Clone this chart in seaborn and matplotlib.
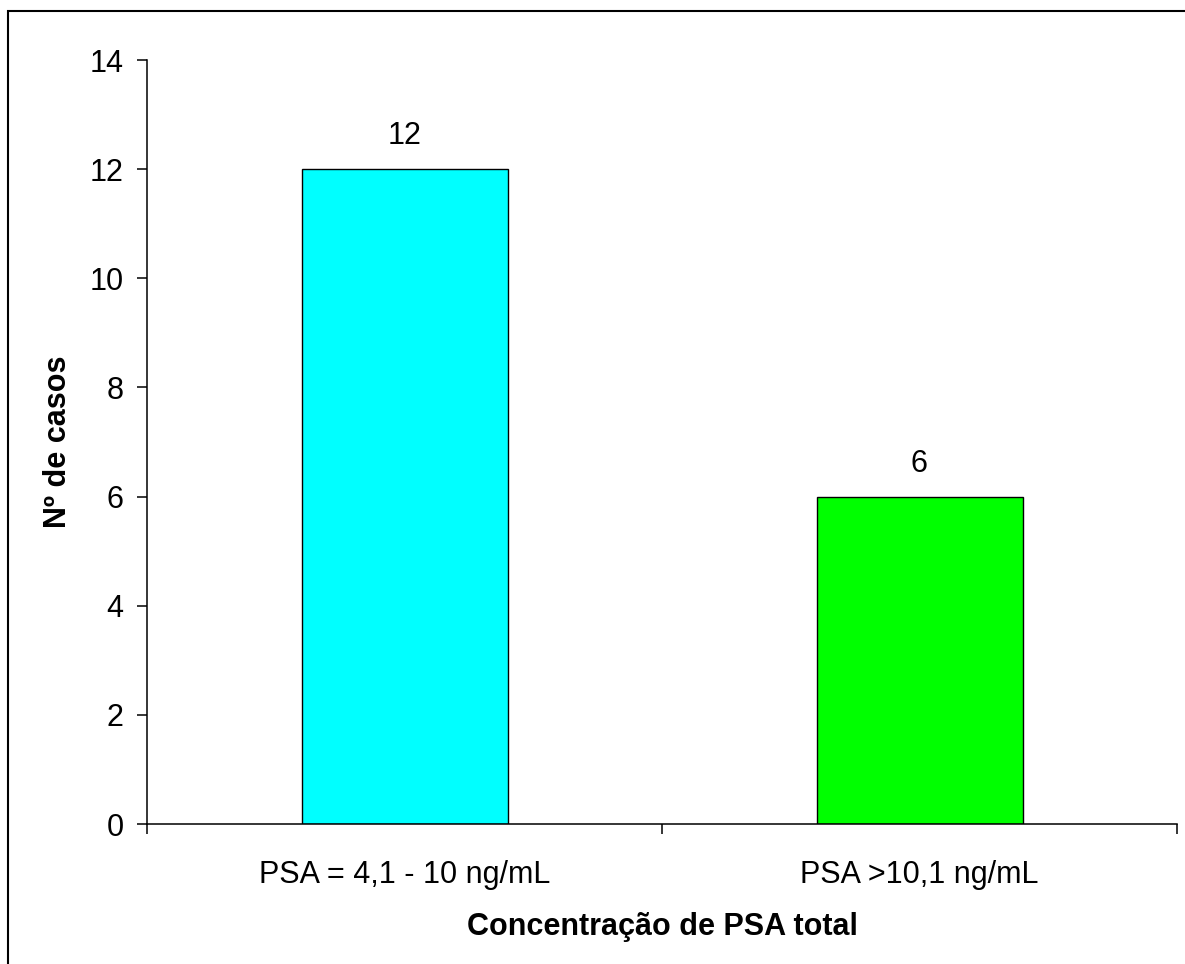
import matplotlib
matplotlib.use("Agg")
import matplotlib.pyplot as plt
import seaborn as sns
import pandas as pd
from matplotlib.patches import Rectangle

# dados do gráfico
categorias = ["PSA = 4,1 - 10 ng/mL", "PSA >10,1 ng/mL"]
casos = [12, 6]
cores = ["#00FFFF", "#00FF00"]

sns.set_style("white")
plt.rcParams['font.family'] = ['Liberation Sans', 'DejaVu Sans']
for chave in ["text.color", "axes.labelcolor", "xtick.color", "ytick.color"]:
    plt.rcParams[chave] = "black"

TAM = 22

df = pd.DataFrame({"categoria": categorias, "casos": casos})

W, H = 1185, 964
fig = plt.figure(figsize=(W / 100, H / 100), dpi=100)
ax = fig.add_axes([147 / W, 1 - 824 / H, (1177 - 147) / W, (824 - 60) / H])

sns.barplot(data=df, x="categoria", y="casos", hue="categoria", palette=cores,
            saturation=1, width=0.4, edgecolor="black", linewidth=1.0,
            legend=False, ax=ax)

for cont in ax.containers:
    ax.bar_label(cont, fmt="%d", padding=13, fontsize=TAM, color="black")

ax.set_xlim(-0.5, 1.5)
ax.set_ylim(0, 14)
ax.set_yticks(range(0, 15, 2))
ax.set_xticks([-0.5, 0.5, 1.5], minor=True)
ax.tick_params(axis="x", which="major", length=0, pad=26, labelsize=TAM)
ax.tick_params(axis="x", which="minor", length=7, width=1.1, direction="out", bottom=True)
ax.tick_params(axis="y", which="major", length=7, width=1.1, direction="out", left=True,
               pad=10, labelsize=TAM)

for lado in ["top", "right"]:
    ax.spines[lado].set_visible(False)
for lado in ["left", "bottom"]:
    ax.spines[lado].set_linewidth(1.1)
    ax.spines[lado].set_color("black")

ax.set_xlabel("Concentração de PSA total", fontsize=TAM, fontweight="bold", labelpad=16)
ax.set_ylabel("Nº de casos", fontsize=TAM, fontweight="bold", labelpad=12)

# moldura da figura (só esquerda e topo visíveis)
fig.patches.append(Rectangle((8 / W, -0.1), 1.2, 1 - 11 / H + 0.1, transform=fig.transFigure,
                             fill=False, edgecolor="black", linewidth=1.5))

fig.savefig("out.png", dpi=100)
